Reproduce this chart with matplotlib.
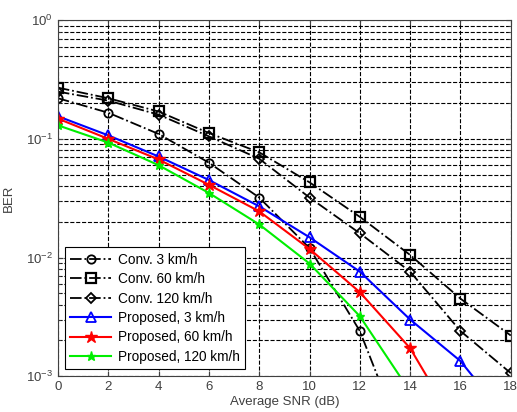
import numpy as np
import matplotlib.pyplot as plt

plt.rcParams['font.family'] = ['Liberation Sans', 'DejaVu Sans']

# === Data ===
snr = [0, 2, 4, 6, 8, 10, 12, 14, 16, 18]
conv_3 = [0.22, 0.166, 0.11, 0.063, 0.032, 0.012, 0.0024, 0.0002]
conv_60 = [0.27, 0.22, 0.17, 0.112, 0.077, 0.043, 0.022, 0.0105, 0.0045, 0.0022]
conv_120 = [0.25, 0.21, 0.16, 0.105, 0.068, 0.032, 0.016, 0.0076, 0.0024, 0.00106]
prop_3 = [0.155, 0.107, 0.071, 0.045, 0.027, 0.0148, 0.0076, 0.003, 0.00134, 0.0004]
prop_60 = [0.148, 0.1, 0.067, 0.041, 0.0245, 0.0118, 0.0051, 0.00172, 0.00033]
prop_120 = [0.13, 0.093, 0.06, 0.035, 0.019, 0.0089, 0.0032, 0.00074]

fig = plt.figure(figsize=(5.17, 4.12), dpi=100)
ax = fig.add_axes([0.112, 0.087, 0.876, 0.864])

ax.semilogy(snr[:len(conv_3)], conv_3, 'k-.', marker='o', mfc='none', ms=6, mew=1.3, lw=1.3, label='Conv. 3 km/h')
ax.semilogy(snr, conv_60, 'k-.', marker='s', mfc='none', ms=6.5, mew=1.6, lw=1.3, label='Conv. 60 km/h')
ax.semilogy(snr, conv_120, 'k-.', marker='D', mfc='none', ms=5, mew=1.3, lw=1.3, label='Conv. 120 km/h')
ax.semilogy(snr, prop_3, color='#0000ff', marker='^', mfc='none', ms=7.5, mew=1.3, lw=1.5, label='Proposed, 3 km/h')
ax.semilogy(snr[:len(prop_60)], prop_60, color='#ff0000', marker='*', ms=9, lw=1.5, label='Proposed, 60 km/h')
ax.semilogy(snr[:len(prop_120)], prop_120, color='#00ee00', marker='*', ms=6.5, lw=1.5, label='Proposed, 120 km/h')

ax.set_xlim(0, 18)
ax.set_ylim(1e-3, 1)
ax.set_xticks(snr)
ax.grid(True, which='major', color='k', linestyle='--', linewidth=0.8)
ax.grid(True, which='minor', axis='y', color='k', linestyle='--', linewidth=0.8)
ax.tick_params(which='both', direction='in', top=True, right=True, labelsize=9.5,
               labelcolor='#404040', colors='#404040')
ax.set_xlabel('Average SNR (dB)', fontsize=9.5, color='#404040', labelpad=2)
ax.set_ylabel('BER', fontsize=9.5, color='#404040', labelpad=8)
for s in ax.spines.values():
    s.set_color('#404040')

leg = ax.legend(loc='lower left', fontsize=9.8, fancybox=False, framealpha=1,
                edgecolor='k', handlelength=3.0, labelspacing=0.4, borderaxespad=0.5,
                borderpad=0.4, handletextpad=0.5)
leg.get_frame().set_linewidth(0.8)

plt.savefig('out.png', dpi=100)
